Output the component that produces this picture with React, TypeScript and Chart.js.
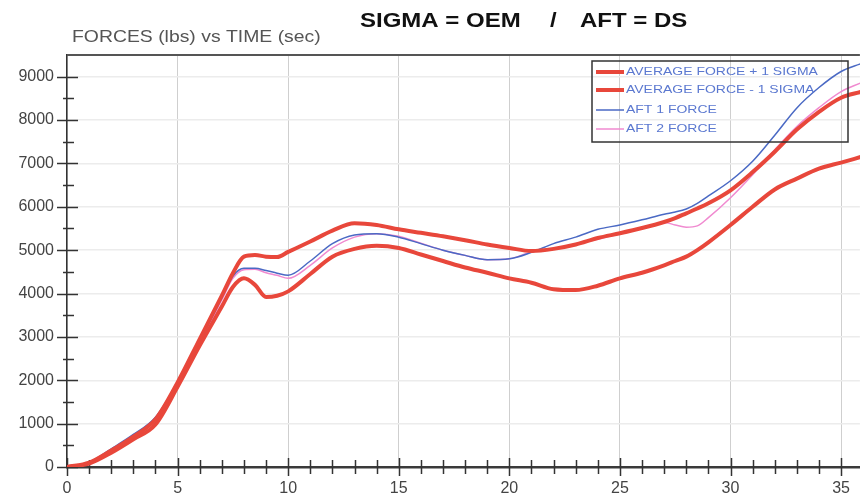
import React, { useEffect, useRef } from "react";
import { Chart, registerables } from "chart.js";

Chart.register(...registerables);

const TIME = [0, 1, 2, 3, 4, 5, 6, 7, 7.5, 8, 8.5, 9, 9.5, 10, 11, 12, 13, 14, 15, 16, 17, 18, 19, 20, 21, 22, 23, 24, 25, 26, 27, 27.5, 28, 28.5, 29, 30, 31, 32, 33, 34, 35, 35.9];

const AVG_PLUS_SIGMA = [0, 100, 380, 700, 1100, 1950, 2950, 3950, 4470, 4850, 4890, 4850, 4840, 4960, 5200, 5450, 5620, 5580, 5480, 5400, 5320, 5230, 5130, 5050, 4980, 5030, 5130, 5280, 5390, 5510, 5650, 5740, 5850, 5960, 6080, 6380, 6800, 7270, 7780, 8190, 8515, 8650];

const AVG_MINUS_SIGMA = [0, 80, 330, 640, 980, 1850, 2800, 3700, 4150, 4350, 4200, 3920, 3950, 4050, 4450, 4850, 5030, 5100, 5050, 4900, 4750, 4600, 4480, 4350, 4250, 4100, 4080, 4180, 4350, 4480, 4650, 4750, 4850, 5000, 5180, 5580, 6000, 6400, 6650, 6880, 7020, 7150];

const AFT1_FORCE = [0, 110, 420, 750, 1150, 1950, 2900, 3900, 4400, 4580, 4580, 4530, 4470, 4420, 4750, 5150, 5350, 5380, 5300, 5150, 5000, 4880, 4780, 4800, 4950, 5150, 5300, 5480, 5580, 5700, 5830, 5880, 5950, 6080, 6250, 6600, 7050, 7650, 8280, 8750, 9120, 9300];

const AFT2_FORCE = [0, 100, 400, 720, 1100, 1900, 2850, 3850, 4350, 4550, 4560, 4480, 4420, 4350, 4650, 5050, 5300, 5380, 5320, 5160, 5000, 4880, 4780, 4800, 4960, 5030, 5150, 5250, 5380, 5500, 5640, 5580, 5530, 5560, 5750, 6210, 6740, 7315, 7850, 8285, 8655, 8860];

const SERIES_NAMES = ["AVERAGE FORCE + 1 SIGMA", "AVERAGE FORCE - 1 SIGMA", "AFT 1 FORCE", "AFT 2 FORCE"];

const Y_TICKS = [0, 500, 1000, 1500, 2000, 2500, 3000, 3500, 4000, 4500, 5000, 5500, 6000, 6500, 7000, 7500, 8000, 8500, 9000];
const X_TICKS = [0, 1, 2, 3, 4, 5, 6, 7, 8, 9, 10, 11, 12, 13, 14, 15, 16, 17, 18, 19, 20, 21, 22, 23, 24, 25, 26, 27, 28, 29, 30, 31, 32, 33, 34, 35];

const TITLE_LEFT = "FORCES (lbs) vs TIME (sec)";
const TITLE_MAIN_A = "SIGMA = OEM";
const TITLE_MAIN_SLASH = "/";
const TITLE_MAIN_B = "AFT = DS";

const RED = "#e8473b";
const BLUE = "#4a69c4";
const PINK = "#f08ad0";
const FONT = "'Liberation Sans', Arial, sans-serif";

function pts(vals: number[]) {
  return vals.map((v, i) => ({ x: TIME[i], y: v }));
}

function scaledText(ctx: CanvasRenderingContext2D, text: string, x: number, y: number, sx: number) {
  ctx.save();
  ctx.translate(x, y);
  ctx.scale(sx, 1);
  ctx.fillText(text, 0, 0);
  ctx.restore();
}

const decorPlugin = {
  id: "decor",
  beforeDatasetsDraw(chart: any) {
    const { ctx, chartArea, scales } = chart;
    const xs = scales.x;
    const ys = scales.y;
    ctx.save();
    // top frame line
    ctx.strokeStyle = "#555";
    ctx.lineWidth = 2;
    ctx.beginPath();
    ctx.moveTo(chartArea.left, chartArea.top);
    ctx.lineTo(chartArea.right, chartArea.top);
    ctx.stroke();
    // y ticks crossing the axis
    ctx.strokeStyle = "#333";
    ctx.lineWidth = 1.5;
    Y_TICKS.forEach((v) => {
      const py = Math.round(ys.getPixelForValue(v)) + 0.5;
      const major = v % 1000 === 0;
      ctx.beginPath();
      ctx.moveTo(chartArea.left - (major ? 10 : 4), py);
      ctx.lineTo(chartArea.left + (major ? 11 : 7), py);
      ctx.stroke();
    });
    // x ticks crossing the axis
    X_TICKS.forEach((v) => {
      const px = Math.round(xs.getPixelForValue(v)) + 0.5;
      const major = v % 5 === 0;
      ctx.beginPath();
      ctx.moveTo(px, chartArea.bottom - (major ? 9 : 7));
      ctx.lineTo(px, chartArea.bottom + (major ? 9 : 7));
      ctx.stroke();
    });
    ctx.restore();
  },
  afterDraw(chart: any) {
    const { ctx } = chart;
    ctx.save();
    // titles
    ctx.fillStyle = "#555";
    ctx.textBaseline = "alphabetic";
    ctx.font = `17px ${FONT}`;
    scaledText(ctx, TITLE_LEFT, 72, 42, 1.14);
    ctx.fillStyle = "#111";
    ctx.font = `bold 20px ${FONT}`;
    scaledText(ctx, TITLE_MAIN_A, 360, 27, 1.2);
    scaledText(ctx, TITLE_MAIN_SLASH, 550, 27, 1.2);
    scaledText(ctx, TITLE_MAIN_B, 580, 27, 1.2);

    // legend
    const lx = 592, ly = 61, lw = 256, lh = 81;
    ctx.strokeStyle = "#333";
    ctx.lineWidth = 1.5;
    ctx.strokeRect(lx, ly, lw, lh);
    const rows = [72, 90, 110, 129];
    const styles = [
      { c: RED, w: 4 },
      { c: RED, w: 4 },
      { c: BLUE, w: 1.5 },
      { c: PINK, w: 1.5 },
    ];
    ctx.font = `11px ${FONT}`;
    ctx.textBaseline = "middle";
    SERIES_NAMES.forEach((name, i) => {
      ctx.strokeStyle = styles[i].c;
      ctx.lineWidth = styles[i].w;
      ctx.beginPath();
      ctx.moveTo(596, rows[i]);
      ctx.lineTo(624, rows[i]);
      ctx.stroke();
      ctx.fillStyle = "#5b78d0";
      scaledText(ctx, name, 626, rows[i], 1.27);
    });
    ctx.restore();
  },
};

export default function App() {
  const ref = useRef<HTMLCanvasElement | null>(null);
  useEffect(() => {
    if (!ref.current) return;
    const chart = new Chart(ref.current, {
      type: "line",
      data: {
        datasets: [
          { label: SERIES_NAMES[0], data: pts(AVG_PLUS_SIGMA), borderColor: RED, borderWidth: 4, order: 1 },
          { label: SERIES_NAMES[1], data: pts(AVG_MINUS_SIGMA), borderColor: RED, borderWidth: 4, order: 1 },
          { label: SERIES_NAMES[2], data: pts(AFT1_FORCE), borderColor: BLUE, borderWidth: 1.5, order: 2 },
          { label: SERIES_NAMES[3], data: pts(AFT2_FORCE), borderColor: PINK, borderWidth: 1.5, order: 3 },
        ].map((d) => ({ ...d, pointRadius: 0, fill: false, cubicInterpolationMode: "monotone" as const })),
      },
      options: {
        animation: false,
        responsive: false,
        maintainAspectRatio: false,
        layout: { padding: { top: 55, left: 0, right: 0, bottom: 0 } },
        plugins: { legend: { display: false }, tooltip: { enabled: false }, title: { display: false } },
        scales: {
          x: {
            type: "linear",
            min: 0,
            max: 35.85,
            afterBuildTicks: (s: any) => {
              s.ticks = X_TICKS.map((v) => ({ value: v }));
            },
            afterFit: (s: any) => {
              s.height = 31;
            },
            grid: {
              drawTicks: false,
              color: (c: any) => (c.tick && c.tick.value % 5 === 0 ? "#cfcfcf" : "rgba(0,0,0,0)"),
              lineWidth: 1,
            },
            border: { display: true, color: "#3a3a3a", width: 2.5 },
            ticks: {
              autoSkip: false,
              maxRotation: 0,
              padding: 12,
              color: "#444",
              font: { family: FONT, size: 16 },
              callback: (v: any) => (Number(v) % 5 === 0 ? String(v) : ""),
            },
          },
          y: {
            type: "linear",
            min: 0,
            max: 9500,
            afterBuildTicks: (s: any) => {
              s.ticks = Y_TICKS.map((v) => ({ value: v }));
            },
            afterFit: (s: any) => {
              s.width = 67;
            },
            grid: {
              drawTicks: false,
              color: (c: any) => (c.tick && c.tick.value % 1000 === 0 && c.tick.value > 0 ? "#ececec" : "rgba(0,0,0,0)"),
              lineWidth: 1.5,
            },
            border: { display: true, color: "#333", width: 1.5 },
            ticks: {
              autoSkip: false,
              padding: 13,
              color: "#444",
              font: { family: FONT, size: 16 },
              callback: (v: any) => (Number(v) % 1000 === 0 ? String(v) : ""),
            },
          },
        },
      },
      plugins: [decorPlugin],
    });
    return () => chart.destroy();
  }, []);
  return (
    <div style={{ position: "absolute", left: 0, top: 0, width: 862, height: 498, background: "#fff" }}>
      <canvas ref={ref} width={862} height={498} style={{ display: "block" }} />
    </div>
  );
}
